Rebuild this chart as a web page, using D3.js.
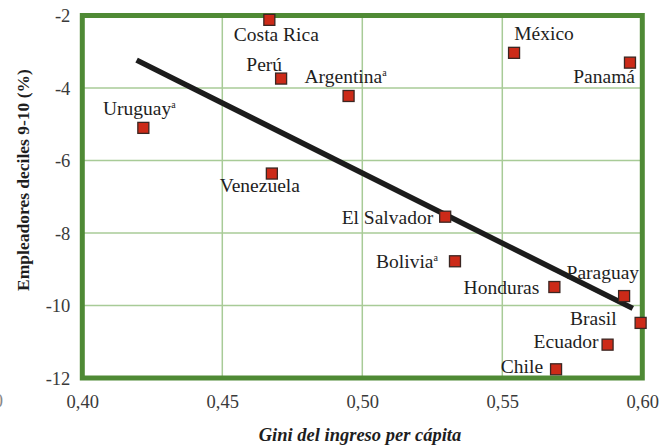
<!DOCTYPE html>
<html>
<head>
<meta charset="utf-8">
<script src="https://cdn.jsdelivr.net/npm/d3@7/dist/d3.min.js"></script>
<style>
  html, body { margin: 0; padding: 0; background: #ffffff; }
  svg { display: block; }
  text { font-family: "Liberation Serif", "Times New Roman", serif; }
</style>
</head>
<body>
<svg id="chart" width="662" height="446"></svg>
<script>
// ---- data ----
const countries = ["Costa Rica", "Perú", "Argentina", "Uruguay", "Venezuela", "México", "Panamá",
                   "El Salvador", "Bolivia", "Honduras", "Paraguay", "Brasil", "Ecuador", "Chile"];
const gini      = [0.4668, 0.4710, 0.4951, 0.4218, 0.4677, 0.5542, 0.5956,
                   0.5296, 0.5331, 0.5686, 0.5935, 0.5994, 0.5876, 0.5692];
const employers = [-2.12, -3.74, -4.22, -5.10, -6.36, -3.03, -3.30,
                   -7.55, -8.78, -9.49, -9.74, -10.48, -11.08, -11.76];
const footnote  = ["", "", "a", "a", "", "", "", "", "a", "", "", "", "", ""];
const trendX = [0.4194, 0.5966];
const trendY = [-3.23, -10.08];
const xTicks = [0.40, 0.45, 0.50, 0.55, 0.60];
const yTicks = [-12, -10, -8, -6, -4, -2];
const xTitle = "Gini del ingreso per cápita";
const yTitle = "Empleadores deciles 9-10 (%)";

// ---- label layout (pixel offsets from marker) ----
const labelLayout = {
  "Costa Rica":  { dx: 7,   dy: 21,  anchor: "middle" },
  "Perú":        { dx: 1,   dy: -8,  anchor: "end" },
  "Argentina":   { dx: -3,  dy: -13, anchor: "middle" },
  "Uruguay":     { dx: -4,  dy: -13, anchor: "middle" },
  "Venezuela":   { dx: -12, dy: 18,  anchor: "middle" },
  "México":      { dx: 30,  dy: -13, anchor: "middle" },
  "Panamá":      { dx: 5,   dy: 20,  anchor: "end" },
  "El Salvador": { dx: -12, dy: 7,   anchor: "end" },
  "Bolivia":     { dx: -17, dy: 7,   anchor: "end" },
  "Honduras":    { dx: -15, dy: 7,   anchor: "end" },
  "Paraguay":    { dx: 15,  dy: -17, anchor: "end" },
  "Brasil":      { dx: -24, dy: 2,   anchor: "end" },
  "Ecuador":     { dx: -9,  dy: 3,   anchor: "end" },
  "Chile":       { dx: -13, dy: 4,   anchor: "end" }
};

const svg = d3.select("#chart");
const x = d3.scaleLinear().domain([0.40, 0.60]).range([82.3, 642.3]);
const y = d3.scaleLinear().domain([-12, -2]).range([378, 15.5]);

const loc = d3.formatLocale({ decimal: ",", thousands: ".", grouping: [3], currency: ["", ""], minus: "-" });
const fx = loc.format(".2f");
const fy = loc.format("d");

const gridColor = "#a8cb97";
const borderColor = "#4f8a35";
const tickColor = "#3a3a3a";

// grid
svg.append("g").selectAll("line.v").data(xTicks.slice(1, -1)).join("line")
  .attr("x1", d => x(d)).attr("x2", d => x(d))
  .attr("y1", y(-2)).attr("y2", y(-12))
  .attr("stroke", gridColor).attr("stroke-width", 1.5);
svg.append("g").selectAll("line.h").data(yTicks.slice(1, -1)).join("line")
  .attr("x1", x(0.40)).attr("x2", x(0.60))
  .attr("y1", d => y(d)).attr("y2", d => y(d))
  .attr("stroke", gridColor).attr("stroke-width", 1.5);

// axes (labels only)
const xAxis = d3.axisBottom(x).tickValues(xTicks).tickFormat(fx).tickSize(0).tickPadding(0);
const gx = svg.append("g").attr("transform", `translate(0,${y(-12)})`).call(xAxis);
gx.select(".domain").remove();
gx.selectAll("text").attr("y", 30).attr("dy", 0)
  .style("font-family", '"Liberation Serif", serif').style("font-size", "18.5px").attr("fill", tickColor);

const yAxis = d3.axisLeft(y).tickValues(yTicks).tickFormat(fy).tickSize(0).tickPadding(0);
const gy = svg.append("g").attr("transform", `translate(${x(0.40)},0)`).call(yAxis);
gy.select(".domain").remove();
gy.selectAll("text").attr("x", -12).attr("dy", "0.35em")
  .style("font-family", '"Liberation Serif", serif').style("font-size", "18.5px").attr("fill", tickColor);

// stray clipped "0" on the far left
svg.append("text").attr("x", 3).attr("y", 407).attr("text-anchor", "end")
  .style("font-size", "18.5px").attr("fill", "#888").text("0");

// border
svg.append("rect")
  .attr("x", x(0.40)).attr("y", y(-2))
  .attr("width", x(0.60) - x(0.40)).attr("height", y(-12) - y(-2))
  .attr("fill", "none").attr("stroke", borderColor).attr("stroke-width", 5);

// trend line
svg.append("line")
  .attr("x1", x(trendX[0])).attr("y1", y(trendY[0]))
  .attr("x2", x(trendX[1])).attr("y2", y(trendY[1]))
  .attr("stroke", "#1c1c1c").attr("stroke-width", 5.5);

// points
const pts = countries.map((c, i) => ({ c, gx: gini[i], ey: employers[i], fn: footnote[i] }));
svg.append("g").selectAll("rect").data(pts).join("rect")
  .attr("x", d => x(d.gx) - 5.5).attr("y", d => y(d.ey) - 5.5)
  .attr("width", 11).attr("height", 11)
  .attr("fill", "#cc2a18").attr("stroke", "#3b2622").attr("stroke-width", 1.3);

// labels
const lab = svg.append("g").selectAll("text").data(pts).join("text")
  .attr("x", d => x(d.gx) + labelLayout[d.c].dx)
  .attr("y", d => y(d.ey) + labelLayout[d.c].dy)
  .attr("text-anchor", d => labelLayout[d.c].anchor)
  .style("font-size", "19.5px").attr("fill", "#1e1e1e");
lab.append("tspan").text(d => d.c);
lab.filter(d => d.fn).append("tspan")
  .attr("dy", -7).style("font-size", "10px").text(d => d.fn);

// axis titles
svg.append("text").attr("x", 360).attr("y", 441).attr("text-anchor", "middle")
  .style("font-size", "18.5px").style("font-weight", "bold").style("font-style", "italic")
  .attr("fill", "#1e1e1e").text(xTitle);
svg.append("text").attr("transform", "translate(29,180) rotate(-90)").attr("text-anchor", "middle")
  .style("font-size", "17.5px").style("font-weight", "bold")
  .attr("fill", "#1e1e1e").text(yTitle);
</script>
</body>
</html>
